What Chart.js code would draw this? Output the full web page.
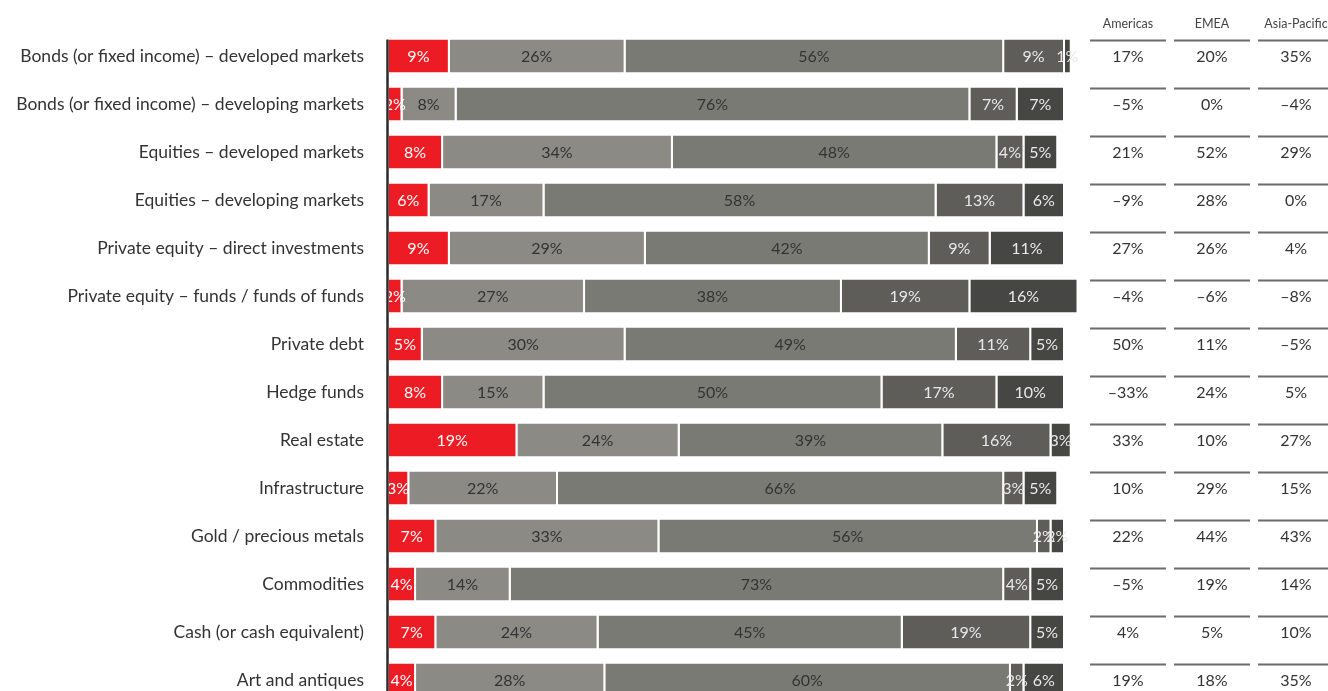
<!DOCTYPE html>
<html>
<head>
<meta charset="utf-8">
<script src="https://cdn.jsdelivr.net/npm/chart.js@4/dist/chart.umd.min.js"></script>
<style>
  html, body { margin: 0; padding: 0; background: #fff; overflow: hidden; }
  canvas { display: block; }
</style>
</head>
<body>
<canvas id="chartAllocation" width="1328" height="710"></canvas>
<script>
// Asset classes, top to bottom
const categories = [
  "Bonds (or fixed income) – developed markets",
  "Bonds (or fixed income) – developing markets",
  "Equities – developed markets",
  "Equities – developing markets",
  "Private equity – direct investments",
  "Private equity – funds / funds of funds",
  "Private debt",
  "Hedge funds",
  "Real estate",
  "Infrastructure",
  "Gold / precious metals",
  "Commodities",
  "Cash (or cash equivalent)",
  "Art and antiques"
];

// Share of answers per group (%), left to right in each bar
const group1 = [9, 2, 8, 6, 9, 2, 5, 8, 19, 3, 7, 4, 7, 4];
const group2 = [26, 8, 34, 17, 29, 27, 30, 15, 24, 22, 33, 14, 24, 28];
const group3 = [56, 76, 48, 58, 42, 38, 49, 50, 39, 66, 56, 73, 45, 60];
const group4 = [9, 7, 4, 13, 9, 19, 11, 17, 16, 3, 2, 4, 19, 2];
const group5 = [1, 7, 5, 6, 11, 16, 5, 10, 3, 5, 2, 5, 5, 6];

// Net balance by region (%)
const regions = ["Americas", "EMEA", "Asia-Pacific"];
const americas = [17, -5, 21, -9, 27, -4, 50, -33, 33, 10, 22, -5, 4, 19];
const emea = [20, 0, 52, 28, 26, -6, 11, 24, 10, 29, 44, 19, 5, 18];
const asiaPacific = [35, -4, 29, 0, 4, -8, -5, 5, 27, 15, 43, 14, 10, 35];

const FONT = "Lato, 'Open Sans', sans-serif";
const fillColors = ["#ed1c24", "#8c8a85", "#7a7a74", "#5f5d59", "#464645"];
const textColors = ["#ffffff", "#333333", "#333333", "#e8e8e8", "#e8e8e8"];
const BAR_PCT = 0.6875;

function pct(v) {
  return (v < 0 ? "\u2013" + Math.abs(v) : String(v)) + "%";
}

// Percent labels inside every segment
const segmentLabels = {
  id: "segmentLabels",
  afterDatasetsDraw(chart) {
    const ctx = chart.ctx;
    ctx.save();
    ctx.font = "16px " + FONT;
    ctx.textAlign = "center";
    ctx.textBaseline = "middle";
    chart.data.datasets.forEach((ds, i) => {
      const meta = chart.getDatasetMeta(i);
      meta.data.forEach((bar, j) => {
        const p = bar.getProps(["x", "base", "y"], true);
        ctx.fillStyle = textColors[i];
        ctx.fillText(pct(ds.data[j]), (p.x + p.base) / 2 - 1, p.y + 1);
      });
    });
    ctx.restore();
  }
};

// Left axis line and the regional table on the right
const sideTable = {
  id: "sideTable",
  afterDraw(chart) {
    const ctx = chart.ctx;
    const area = chart.chartArea;
    const yScale = chart.scales.y;
    const step = yScale.getPixelForValue(1) - yScale.getPixelForValue(0);
    const barHalf = step * BAR_PCT / 2;
    ctx.save();

    ctx.strokeStyle = "#2b2b2b";
    ctx.lineWidth = 2.5;
    ctx.beginPath();
    ctx.moveTo(area.left - 1.5, yScale.getPixelForValue(0) - barHalf);
    ctx.lineTo(area.left - 1.5, chart.height);
    ctx.stroke();

    const cols = [americas, emea, asiaPacific];
    const colLeft = area.right + 25;
    const colW = 76;
    const colStep = 84;

    ctx.textAlign = "center";
    ctx.textBaseline = "middle";
    ctx.fillStyle = "#444";
    ctx.font = "12.5px " + FONT;
    regions.forEach((r, c) => {
      ctx.fillText(r, colLeft + c * colStep + colW / 2, 24);
    });

    ctx.font = "16px " + FONT;
    categories.forEach((_, j) => {
      const y = yScale.getPixelForValue(j);
      cols.forEach((vals, c) => {
        const x0 = colLeft + c * colStep;
        ctx.strokeStyle = "#6b6b6b";
        ctx.lineWidth = 2;
        ctx.beginPath();
        ctx.moveTo(x0, y - barHalf + 1);
        ctx.lineTo(x0 + colW, y - barHalf + 1);
        ctx.stroke();
        ctx.fillStyle = "#333";
        ctx.fillText(pct(vals[j]), x0 + colW / 2, y + 1);
      });
    });
    ctx.restore();
  }
};

const groups = [group1, group2, group3, group4, group5];

new Chart(document.getElementById("chartAllocation"), {
  type: "bar",
  data: {
    labels: categories,
    datasets: groups.map((g, i) => ({
      data: g,
      backgroundColor: fillColors[i],
      borderColor: "#ffffff",
      borderWidth: { top: 0, bottom: 0, left: 0, right: 2 },
      borderSkipped: false,
      categoryPercentage: 1,
      barPercentage: BAR_PCT,
      clip: false
    }))
  },
  options: {
    indexAxis: "y",
    responsive: false,
    animation: false,
    layout: { padding: { top: 32, bottom: 6, left: 0, right: 263 } },
    plugins: {
      legend: { display: false },
      tooltip: { enabled: false }
    },
    scales: {
      x: {
        stacked: true,
        min: 0,
        max: 100,
        display: false
      },
      y: {
        stacked: true,
        grid: { display: false, drawTicks: false },
        border: { display: false },
        afterFit(scale) {
          // fixed label column, no extra room for first/last tick text
          scale.width = 389;
          scale.paddingTop = 0;
          scale.paddingBottom = 0;
        },
        ticks: {
          padding: 25,
          color: "#333",
          font: { family: FONT, size: 17.5 }
        }
      }
    }
  },
  plugins: [segmentLabels, sideTable]
});
</script>
</body>
</html>
